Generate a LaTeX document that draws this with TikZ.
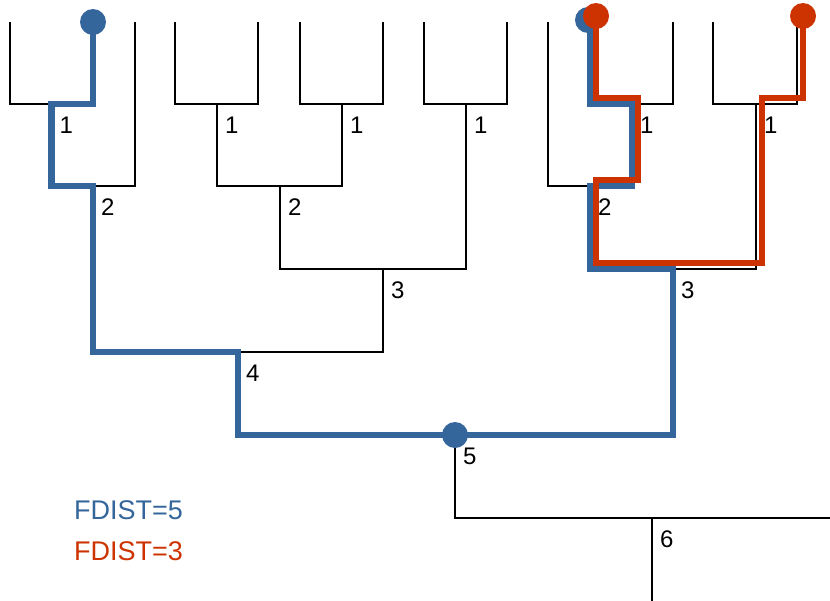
\documentclass[tikz,border=0pt]{standalone}
\usepackage{fontspec}
\setmainfont{Liberation Sans}
\usepackage{xcolor}
\definecolor{fdblue}{HTML}{34669B}
\definecolor{fdred}{HTML}{CC3300}
\usepackage{tikz}
\usetikzlibrary{calc}

\begin{document}
\begin{tikzpicture}[
  x=1pt, y=-1pt,
  branch/.style={line width=1.5pt, color=black},
  route/.style={line width=6.5pt, color=#1},
  hit/.style={circle, fill=#1, inner sep=0pt, minimum size=26pt},
  lvl/.style={anchor=base west, inner sep=0pt, xshift=8pt, yshift=-29pt,
    font=\fontsize{24}{28}\selectfont},
  legend/.style={anchor=base west, inner sep=0pt, text=#1,
    font=\fontsize{27}{32}\selectfont}
]
\useasboundingbox (0,0) rectangle (830,600);
\clip (0,0) rectangle (830,600);

% leaves
\foreach \x [count=\i from 0] in {10,93,135,175,258,300,383,424,507,548,590,673,713,797}
  \coordinate (l\i) at (\x,22);

% merge points
\coordinate (a1) at (51.5,104);
\coordinate (a2) at (93,186);
\coordinate (b1) at (217,104);
\coordinate (b2) at (342,104);
\coordinate (b3) at (280,186);
\coordinate (b4) at (466,104);
\coordinate (b5) at (383,269);
\coordinate (ab) at (238,352);
\coordinate (c1) at (632,104);
\coordinate (c2) at (590,186);
\coordinate (c3) at (756,104);
\coordinate (c4) at (673,269);
\coordinate (r5) at (455,435);
\coordinate (r6) at (652,518);
\coordinate (far) at (850,480);
\coordinate (base) at (652,610);

% tree
\draw[branch] (l0) |- (a1) -| (l1);
\draw[branch] (a1) |- (a2) -| (l2);
\draw[branch] (l3) |- (b1) -| (l4);
\draw[branch] (l5) |- (b2) -| (l6);
\draw[branch] (b1) |- (b3) -| (b2);
\draw[branch] (l7) |- (b4) -| (l8);
\draw[branch] (b3) |- (b5) -| (b4);
\draw[branch] (a2) |- (ab) -| (b5);
\draw[branch] (l10) |- (c1) -| (l11);
\draw[branch] (l9) |- (c2) -| (c1);
\draw[branch] (l12) |- (c3) -| (l13);
\draw[branch] (c2) |- (c4) -| (c3);
\draw[branch] (ab) |- (r5) -| (c4);
\draw[branch] (r5) |- (r6) -| (far);
\draw[branch] (r6) -- (base);

% merge heights
\foreach \m/\d in {a1/1,a2/2,b1/1,b2/1,b3/2,b4/1,b5/3,ab/4,c1/1,c2/2,c3/1,c4/3,r5/5,r6/6}
  \node[lvl] (h\m) at (\m) {\d};

% FDIST=5 path
\draw[route=fdblue] (l1) |- (a1) |- (a2) |- (ab) |- (r5) -| (c4) -| (c2) -| (c1) -| (l10);
\node[hit=fdblue] (s1) at (l1) {};
\node[hit=fdblue] (s2) at ([shift={(-2,-2)}]l10) {};
\node[hit=fdblue] (lca) at (r5) {};

% FDIST=3 path, set off a little
\begin{scope}[transform canvas={xshift=6pt, yshift=6pt}]
\draw[route=fdred] (l10) |- (c1) |- (c2) |- (c4) -| (c3) -| (l13);
\node[hit=fdred] (t1) at (l10) {};
\node[hit=fdred] (t2) at (l13) {};
\end{scope}

\node[legend=fdblue] (fd5) at (74,519) {FDIST=5};
\node[legend=fdred] (fd3) at (74,560) {FDIST=3};
\end{tikzpicture}
\end{document}
